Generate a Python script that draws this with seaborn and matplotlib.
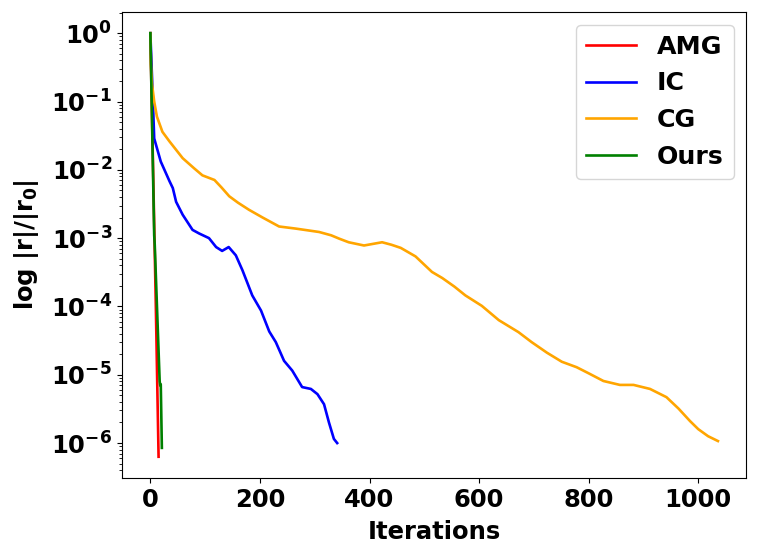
import matplotlib
matplotlib.use("Agg")
import matplotlib.pyplot as plt
import seaborn as sns
import pandas as pd

# ---- data ----
amg_iter = [0, 5, 10, 15]
amg_res = [1.0, 1.0e-2, 1.0e-4, 6.3e-7]

ic_iter = [0, 4, 7, 19, 35, 41, 47, 59, 77, 89, 107, 120, 131, 143, 156, 168,
           186, 202, 217, 229, 244, 259, 277, 293, 305, 317, 326, 335, 341]
ic_res = [1.0, 0.141, 0.0288, 0.0132, 6.8e-3, 5.4e-3, 3.4e-3, 2.2e-3, 1.32e-3,
          1.17e-3, 1.0e-3, 7.4e-4, 6.5e-4, 7.4e-4, 5.6e-4, 3.4e-4, 1.45e-4,
          8.7e-5, 4.3e-5, 3.0e-5, 1.6e-5, 1.15e-5, 6.6e-6, 6.2e-6, 5.2e-6,
          3.7e-6, 2.0e-6, 1.15e-6, 1.0e-6]

cg_iter = [0, 1, 3, 7, 12, 22, 35, 59, 80, 95, 117, 130, 144, 160, 180, 205,
           235, 265, 308, 330, 345, 362, 390, 405, 423, 440, 457, 484, 514, 533,
           555, 575, 605, 636, 672, 696, 724, 751, 778, 800, 827, 857, 882, 912,
           942, 964, 985, 1000, 1018, 1036]
cg_res = [1.0, 0.35, 0.18, 0.1, 0.06, 0.036, 0.026, 0.0148, 0.0105, 8.3e-3,
          7.1e-3, 5.5e-3, 4.1e-3, 3.3e-3, 2.6e-3, 2.0e-3, 1.48e-3, 1.38e-3,
          1.23e-3, 1.1e-3, 9.8e-4, 8.7e-4, 7.8e-4, 8.2e-4, 8.7e-4, 8.0e-4,
          7.2e-4, 5.4e-4, 3.2e-4, 2.6e-4, 1.95e-4, 1.45e-4, 1.02e-4, 6.3e-5,
          4.2e-5, 3.0e-5, 2.1e-5, 1.55e-5, 1.29e-5, 1.05e-5, 8.1e-6, 7.1e-6,
          7.1e-6, 6.2e-6, 4.7e-6, 3.2e-6, 2.1e-6, 1.6e-6, 1.26e-6, 1.07e-6]

ours_iter = [0, 7, 8, 17, 18, 19, 21]
ours_res = [1.0, 1.1e-3, 8.0e-4, 8.0e-6, 7.0e-6, 7.2e-6, 8.5e-7]

methods = ["AMG", "IC", "CG", "Ours"]
colors = {"AMG": "red", "IC": "blue", "CG": "orange", "Ours": "green"}

frames = []
for name, it, res in [("AMG", amg_iter, amg_res), ("IC", ic_iter, ic_res),
                      ("CG", cg_iter, cg_res), ("Ours", ours_iter, ours_res)]:
    frames.append(pd.DataFrame({"Iterations": it, "res": res, "method": name}))
df = pd.concat(frames, ignore_index=True)

plt.rcParams["font.family"] = ["DejaVu Sans"]
plt.rcParams["font.weight"] = "bold"
plt.rcParams["axes.labelweight"] = "bold"
plt.rcParams["mathtext.default"] = "bf"

fs = 17.5
fig = plt.figure(figsize=(7.6, 5.59), dpi=100)
ax = fig.add_axes([0.1605, 0.145, 0.8215, 0.8335])

sns.lineplot(data=df, x="Iterations", y="res", hue="method", hue_order=methods,
             palette=colors, sort=False, estimator=None, linewidth=1.9, ax=ax)
ax.set_yscale("log")
ax.set_xlabel("Iterations", fontsize=fs, fontweight="bold", labelpad=6)
ax.set_ylabel(r"log |r|/|r$_{0}$|", fontsize=fs, fontweight="bold", labelpad=7)
ax.set_xticks([0, 200, 400, 600, 800, 1000])
ax.tick_params(axis="both", which="major", labelsize=fs)
for lab in ax.get_xticklabels() + ax.get_yticklabels():
    lab.set_fontweight("bold")

leg = ax.legend(loc="upper right", fontsize=18.2, title=None)
for t in leg.get_texts():
    t.set_fontweight("bold")

fig.savefig("out.png", dpi=100)
